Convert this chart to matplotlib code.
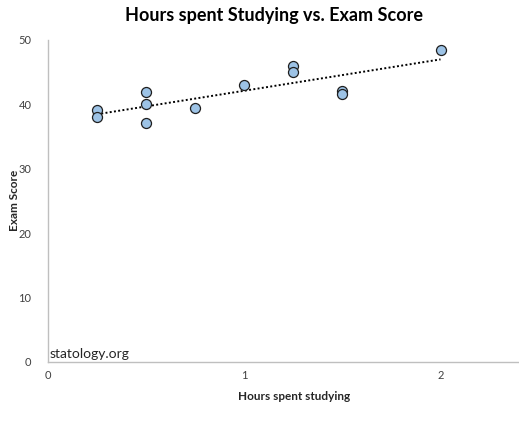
import numpy as np
import matplotlib.pyplot as plt

# data
hours = [0.25, 0.25, 0.5, 0.5, 0.5, 0.75, 1.0, 1.25, 1.25, 1.5, 1.5, 2.0]
score = [39.1, 38.0, 42.0, 40.0, 37.1, 39.5, 43.0, 46.0, 45.0, 42.1, 41.6, 48.4]
xticks = [0, 1, 2]
yticks = [0, 10, 20, 30, 40, 50]

plt.rcParams['font.family'] = ['Lato', 'DejaVu Sans']

fig = plt.figure(figsize=(5.19, 4.24), dpi=100)
ax = fig.add_axes([48/519, 62/424, 1 - 48/519, 322/424])

# linear trendline like excel
slope, icpt = np.polyfit(hours, score, 1)
xs = np.array([min(hours), max(hours)])
ax.plot(xs, slope*xs + icpt, color='black', linestyle=(0, (1, 1.2)), linewidth=1.4, zorder=2)

ax.scatter(hours, score, s=52, facecolor='#9dc3e6', edgecolor='#1f1f1f', linewidth=0.9, zorder=3)

ax.set_xlim(0, 2.4)
ax.set_ylim(0, 50)
ax.set_xticks(xticks)
ax.set_yticks(yticks)
ax.tick_params(length=0, labelsize=8, colors='#404040', pad=6)
ax.tick_params(axis='y', pad=12)

for s in ['top', 'right']:
    ax.spines[s].set_visible(False)
for s in ['left', 'bottom']:
    ax.spines[s].set_color('#bfbfbf')
    ax.spines[s].set_linewidth(1)

fig.text(274/519, 1 - 16/424, 'Hours spent Studying vs. Exam Score', ha='center', va='center',
         fontsize=13, fontweight='bold')
fig.text(294/519, 1 - 397/424, 'Hours spent studying', ha='center', va='center',
         fontsize=8.5, fontweight='bold', color='#262626')
fig.text(15/519, 1 - 200/424, 'Exam Score', ha='center', va='center', rotation=90,
         fontsize=8.5, fontweight='bold', color='#262626')
fig.text(50/519, 1 - 354/424, 'statology.org', ha='left', va='center', fontsize=10, color='#262626')

fig.savefig('out.png', dpi=100)
